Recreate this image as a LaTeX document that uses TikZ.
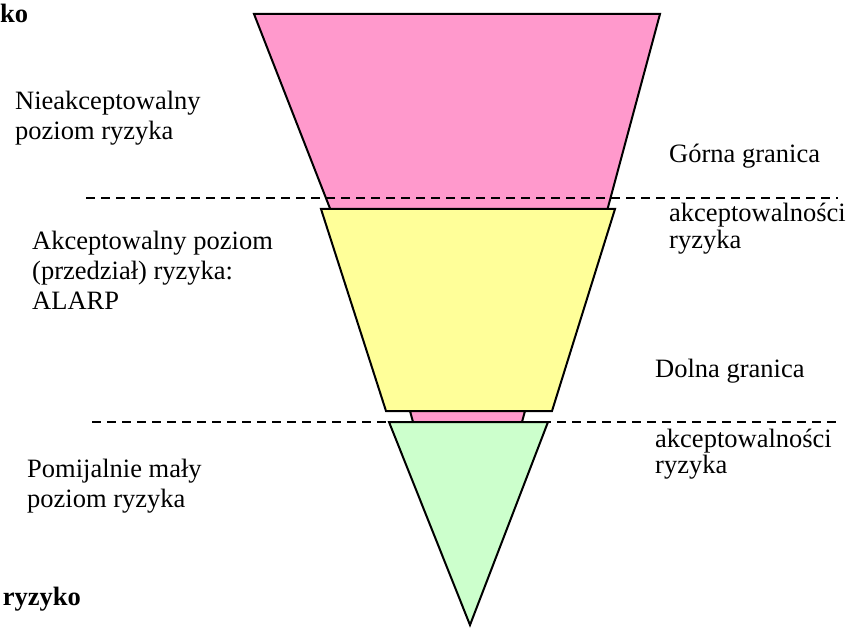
\documentclass[tikz,border=0pt]{standalone}
\usepackage{fontspec}
\setmainfont{Liberation Serif}
\begin{document}
\begin{tikzpicture}[x=1pt,y=-1pt,
  lbl/.style={anchor=base west,inner sep=0pt,align=left,font=\fontsize{26.5}{30}\selectfont},
  lblr/.style={anchor=base west,inner sep=0pt,align=left,font=\fontsize{26.5}{26}\selectfont},
  boldlbl/.style={inner sep=0pt,font=\fontsize{26.5}{31}\selectfont\bfseries},
  poly/.style={draw=black,line width=2pt,line join=miter},
  dline/.style={draw=black,line width=1.8pt,dash pattern=on 9pt off 6pt}]
\useasboundingbox (0,0) rectangle (848,628);
\definecolor{pinkA}{HTML}{FF99CC}
\definecolor{yelA}{HTML}{FFFF99}
\definecolor{grnA}{HTML}{CCFFCC}
% shapes
\coordinate (p1) at (254,14);
\coordinate (p2) at (660,14);
\coordinate (p3) at (607,211);
\coordinate (p4) at (331,211);
\filldraw[poly,fill=pinkA] (p1) -- (p2) -- (p3) -- (p4) -- cycle;
\coordinate (d1a) at (86,198);
\coordinate (d1b) at (838,198);
\draw[dline] (d1a) -- (d1b);
\coordinate (y1) at (321,209);
\coordinate (y2) at (615,209);
\coordinate (y3) at (552,411);
\coordinate (y4) at (386,411);
\filldraw[poly,fill=yelA] (y1) -- (y2) -- (y3) -- (y4) -- cycle;
\coordinate (s1) at (410,411);
\coordinate (s2) at (525,411);
\coordinate (s3) at (522,422);
\coordinate (s4) at (413,422);
\filldraw[poly,fill=pinkA] (s1) -- (s2) -- (s3) -- (s4) -- cycle;
\coordinate (d2a) at (92,422);
\coordinate (d2b) at (838,422);
\draw[dline] (d2a) -- (d2b);
\coordinate (g1) at (389,422);
\coordinate (g2) at (548,422);
\coordinate (g3) at (470,625);
\filldraw[poly,fill=grnA] (g1) -- (g2) -- (g3) -- cycle;
% texts (base anchor = baseline of last line)
\node[boldlbl,anchor=base west] (tko) at (0,23) {ko};
\node[boldlbl,anchor=base east] (bko) at (81,605) {ryzyko};
\node[lbl] (t1) at (15,140) {Nieakceptowalny\\poziom ryzyka};
\node[lbl] (t2) at (32,309) {Akceptowalny poziom\\(przedział) ryzyka:\\ALARP};
\node[lbl] (t3) at (27,507) {Pomijalnie mały\\poziom ryzyka};
\node[lbl] (r1) at (669,163) {Górna granica};
\node[lblr] (r2) at (669,248) {akceptowalności\\ryzyka};
\node[lbl] (r3) at (655,377) {Dolna granica};
\node[lblr] (r4) at (655,473) {akceptowalności\\ryzyka};
\end{tikzpicture}
\end{document}
